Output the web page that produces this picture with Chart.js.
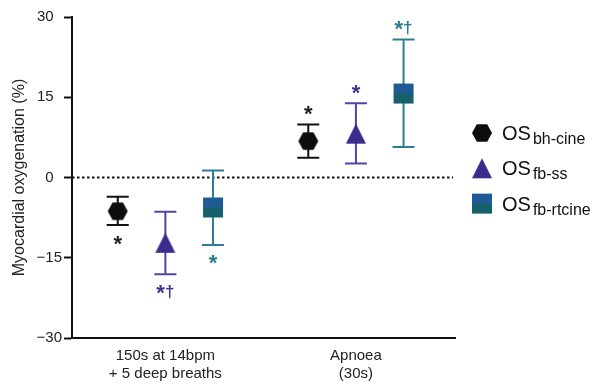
<!DOCTYPE html>
<html>
<head>
<meta charset="utf-8">
<script src="https://cdn.jsdelivr.net/npm/chart.js@4.4.1/dist/chart.umd.min.js"></script>
<style>
html, body { margin: 0; padding: 0; background: #fff; }
#wrap { width: 598px; height: 385px; }
</style>
</head>
<body>
<div id="wrap"><canvas id="chart"></canvas></div>
<script>
// chart values
const categories = [['150s at 14bpm', '+ 5 deep breaths'], ['Apnoea', '(30s)']];
const seriesNames = ['bh-cine', 'fb-ss', 'fb-rtcine'];
const yTicks = [-30, -15, 0, 15, 30];

const bhCineMean = [-6.3, 6.8];
const bhCineLow = [-8.9, 3.7];
const bhCineHigh = [-3.6, 9.9];

const fbSsMean = [-12.2, 8.2];
const fbSsLow = [-18.1, 2.6];
const fbSsHigh = [-6.4, 13.9];

const fbRtcineMean = [-5.6, 15.7];
const fbRtcineLow = [-12.6, 5.7];
const fbRtcineHigh = [1.3, 25.8];

// significance marks, below the bar for the first group, above for the second
const bhCineSig = ['*', '*'];
const fbSsSig = ['*\u2020', '*'];
const fbRtcineSig = ['*', '*\u2020'];
const sigSide = ['below', 'above'];

const FONT = '"Liberation Sans", Arial, Helvetica, sans-serif';

function makeMarker(kind) {
    const c = document.createElement('canvas');
    c.width = 22;
    c.height = 22;
    const g = c.getContext('2d');
    if (kind === 'hex') {
        g.fillStyle = '#0d0d0d';
        g.beginPath();
        g.moveTo(1, 11); g.lineTo(5.8, 2.3); g.lineTo(16.2, 2.3);
        g.lineTo(21, 11); g.lineTo(16.2, 19.7); g.lineTo(5.8, 19.7);
        g.closePath();
        g.fill();
    } else if (kind === 'tri') {
        g.fillStyle = '#3a2b8c';
        g.beginPath();
        g.moveTo(1, 21); g.lineTo(11, 1); g.lineTo(21, 21);
        g.closePath();
        g.fill();
    } else {
        g.fillStyle = '#205a94';
        g.fillRect(1, 1, 20, 10);
        g.fillStyle = '#16606c';
        g.fillRect(1, 11, 20, 10);
    }
    return c;
}

const offsets = [-0.25, 0, 0.25];
function points(means) {
    return means.map((v, j) => ({ x: j + 0.5, y: v }));
}

const datasets = [
    { label: seriesNames[0], data: points(bhCineMean), errLow: bhCineLow, errHigh: bhCineHigh,
      sig: bhCineSig, pointStyle: makeMarker('hex'), errColor: '#111', sigColor: '#222' },
    { label: seriesNames[1], data: points(fbSsMean), errLow: fbSsLow, errHigh: fbSsHigh,
      sig: fbSsSig, pointStyle: makeMarker('tri'), errColor: '#4b47a3', sigColor: '#3b3590' },
    { label: seriesNames[2], data: points(fbRtcineMean), errLow: fbRtcineLow, errHigh: fbRtcineHigh,
      sig: fbRtcineSig, pointStyle: makeMarker('sq'), errColor: '#2b7f95', sigColor: '#2a7a90' }
];
datasets.forEach((ds, i) => {
    ds.data = ds.data.map(p => ({ x: p.x + offsets[i], y: p.y }));
    ds.pointRadius = 10;
    ds.showLine = false;
});

function drawSig(ctx, text, cx, cy, color) {
    const parts = text.split('').map(ch => ({
        ch: ch,
        font: ch === '*' ? 'bold 22px ' + FONT : 'bold 17px ' + FONT
    }));
    let total = 0;
    parts.forEach(p => {
        ctx.font = p.font;
        const m = ctx.measureText(p.ch);
        p.w = m.width;
        p.asc = m.actualBoundingBoxAscent;
        p.desc = m.actualBoundingBoxDescent;
        total += p.w;
    });
    // asterisk sets the vertical centre, dagger top lines up with it
    const star = parts.find(p => p.ch === '*');
    const top = cy - (star.asc + star.desc) / 2;
    let x = cx - total / 2;
    ctx.fillStyle = color;
    ctx.textAlign = 'left';
    ctx.textBaseline = 'alphabetic';
    parts.forEach(p => {
        ctx.font = p.font;
        ctx.fillText(p.ch, x, top + p.asc);
        x += p.w;
    });
}

const errorBars = {
    id: 'errorBars',
    beforeDatasetsDraw(chart) {
        const { ctx, chartArea } = chart;
        const y = chart.scales.y;
        const zero = y.getPixelForValue(0);
        ctx.save();
        ctx.setLineDash([2.5, 2.5]);
        ctx.strokeStyle = '#111';
        ctx.lineWidth = 2;
        ctx.beginPath();
        ctx.moveTo(chartArea.left, zero);
        ctx.lineTo(chartArea.right - 2, zero);
        ctx.stroke();
        ctx.restore();

        chart.data.datasets.forEach((ds, i) => {
            chart.getDatasetMeta(i).data.forEach((pt, j) => {
                const lo = y.getPixelForValue(ds.errLow[j]);
                const hi = y.getPixelForValue(ds.errHigh[j]);
                ctx.save();
                ctx.strokeStyle = ds.errColor;
                ctx.lineWidth = 2;
                ctx.beginPath();
                ctx.moveTo(pt.x, lo); ctx.lineTo(pt.x, hi);
                ctx.moveTo(pt.x - 11, lo); ctx.lineTo(pt.x + 11, lo);
                ctx.moveTo(pt.x - 11, hi); ctx.lineTo(pt.x + 11, hi);
                ctx.stroke();
                const cy = sigSide[j] === 'above' ? hi - 14 : lo + 15;
                drawSig(ctx, ds.sig[j], pt.x, cy, ds.sigColor);
                ctx.restore();
            });
        });
    }
};

const osLegend = {
    id: 'osLegend',
    afterDraw(chart) {
        const { ctx, chartArea } = chart;
        const mx = chartArea.right + 27;
        ctx.save();
        chart.data.datasets.forEach((ds, i) => {
            const cy = chartArea.top + 116 + i * 35.3;
            const img = ds.pointStyle;
            ctx.drawImage(img, mx - img.width / 2, cy - img.height / 2);
            ctx.fillStyle = '#111';
            ctx.textAlign = 'left';
            ctx.textBaseline = 'alphabetic';
            ctx.font = '20px ' + FONT;
            const tx = mx + 20;
            ctx.fillText('OS', tx, cy + 7);
            const w = ctx.measureText('OS').width;
            ctx.font = '16px ' + FONT;
            ctx.fillText(ds.label, tx + w + 2, cy + 11);
        });
        ctx.restore();
    }
};

new Chart(document.getElementById('chart'), {
    type: 'scatter',
    data: { datasets: datasets },
    options: {
        responsive: true,
        maintainAspectRatio: false,
        animation: false,
        events: [],
        layout: { padding: { top: 17, right: 143, left: 0, bottom: 0 } },
        plugins: {
            legend: { display: false },
            tooltip: { enabled: false }
        },
        scales: {
            x: {
                type: 'linear',
                min: 0.01,
                max: 2.02,
                afterBuildTicks: s => { s.ticks = categories.map((c, i) => ({ value: i + 0.5 })); },
                afterFit: s => { s.height = 47; },
                grid: { display: false },
                border: { display: true, color: '#111', width: 2 },
                ticks: {
                    padding: 1,
                    color: '#222',
                    autoSkip: false,
                    maxRotation: 0,
                    font: { size: 15, family: FONT },
                    callback: (v, i) => categories[i]
                }
            },
            y: {
                min: -30,
                max: 30,
                afterBuildTicks: s => { s.ticks = yTicks.map(v => ({ value: v })); },
                afterFit: s => { s.width = 72; },
                grid: {
                    drawOnChartArea: false,
                    drawTicks: true,
                    tickLength: 8,
                    tickWidth: 2,
                    tickColor: '#111',
                    color: '#111'
                },
                border: { display: true, color: '#111', width: 2 },
                ticks: {
                    padding: 2,
                    color: '#222',
                    font: { size: 15, family: FONT },
                    callback: v => v < 0 ? '\u2212' + Math.abs(v) : v + '\u2007'
                },
                title: {
                    display: true,
                    text: 'Myocardial oxygenation (%)',
                    color: '#222',
                    font: { size: 16, family: FONT },
                    padding: { top: 10, bottom: 0 }
                }
            }
        }
    },
    plugins: [errorBars, osLegend]
});
</script>
</body>
</html>
